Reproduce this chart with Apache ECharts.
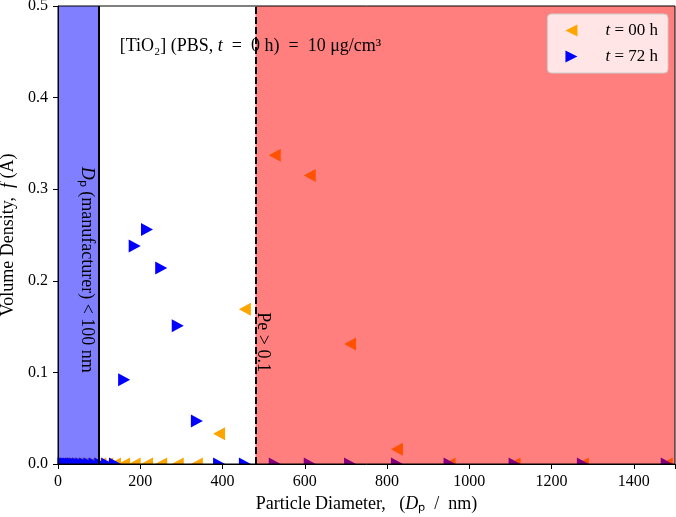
<!DOCTYPE html>
<html>
<head>
<meta charset="utf-8">
<script src="https://cdn.jsdelivr.net/npm/echarts@6/dist/echarts.min.js"></script>
<style>
  html, body { margin: 0; padding: 0; background: #fff; }
  #chart { width: 676px; height: 517px; }
</style>
</head>
<body>
<div id="chart"></div>
<script>
// particle diameter bins (nm)
const diameters = [5.3, 6.1, 7.1, 8.3, 9.6, 11.1, 12.9, 14.9, 17.3, 20.1,
  23.3, 27.1, 31.4, 36.4, 42.3, 49.0, 56.9, 66.0, 76.5, 88.8,
  103.0, 119.5, 138.6, 160.8, 186.5, 216.3, 250.9, 291.1, 337.6, 391.6,
  454.3, 527, 612, 710, 824, 952, 1110, 1276, 1480];
// volume density, t = 00 h
const density00 = [0, 0, 0, 0, 0, 0, 0, 0, 0, 0,
  0, 0, 0, 0, 0, 0, 0, 0, 0, 0,
  0, 0, 0, 0, 0, 0, 0, 0, 0, 0.033,
  0.169, 0.337, 0.315, 0.131, 0.016, 0, 0, 0, 0];
// volume density, t = 72 h
const density72 = [0, 0, 0, 0, 0, 0, 0, 0, 0, 0,
  0, 0, 0, 0, 0, 0, 0, 0, 0, 0,
  0, 0, 0, 0.092, 0.238, 0.256, 0.214, 0.151, 0.047, 0,
  0, 0, 0, 0, 0, 0, 0, 0, 0];
const seriesNames = ['t = 00 h', 't = 72 h'];
const legendLabels = ['{g|}{i|t} = 00 h', '{g|}{i|t} = 72 h'];
// regions (nm)
const manufacturerLimit = 100;
const pecletLimit = 480;
const xMin = 0, xMax = 1500, xStep = 200;
const yMin = 0, yMax = 0.5, yStep = 0.1;

const font = 'Liberation Serif';
const richName = { i: { fontStyle: 'italic', fontFamily: font, fontSize: 18 } };
const richLegend = { i: { fontStyle: 'italic', fontFamily: font, fontSize: 17 }, g: { width: 19 } };
const leftIcon = 'path://M0,6 L12,0 L12,12 Z';
const rightIcon = 'path://M0,0 L12,6 L0,12 Z';

function pairs(xs, ys) {
  return xs.map((x, k) => [x, ys[k]]);
}

const chart = echarts.init(document.getElementById('chart'));
chart.setOption({
  animation: false,
  textStyle: { fontFamily: font },
  grid: { left: 58, right: 1, top: 6, bottom: 53, containLabel: false, outerBoundsMode: 'none' },
  xAxis: {
    type: 'value', min: xMin, max: xMax, interval: xStep, z: 10,
    name: 'Particle Diameter,   ({i|D}ₚ  /  nm)',
    nameLocation: 'middle', nameGap: 31,
    nameTextStyle: { fontSize: 18, color: '#000', fontFamily: font, rich: richName },
    axisLine: { lineStyle: { color: '#000', width: 1 } },
    axisTick: { show: true, length: 5, lineStyle: { color: '#000' } },
    axisLabel: { color: '#000', fontSize: 16, margin: 10, formatter: v => (v === xMax ? '' : String(v)) },
    splitLine: { show: false }
  },
  yAxis: {
    type: 'value', min: yMin, max: yMax, interval: yStep, z: 10,
    name: 'Volume Density,  {i|f} (A)',
    nameLocation: 'middle', nameGap: 40, nameRotate: 90,
    nameTextStyle: { fontSize: 18, color: '#000', fontFamily: font, rich: richName },
    axisLine: { show: true, lineStyle: { color: '#000', width: 1 } },
    axisTick: { show: true, length: 5, lineStyle: { color: '#000' } },
    axisLabel: { color: '#000', fontSize: 16, margin: 10, formatter: v => v.toFixed(1) },
    splitLine: { show: false }
  },
  legend: {
    z: 20,
    orient: 'vertical', right: 8, top: 14,
    padding: [8, 10, 8, 18], itemGap: 9,
    itemWidth: 20, itemHeight: 12,
    backgroundColor: 'rgba(255,255,255,0.8)',
    borderColor: '#cccccc', borderWidth: 1, borderRadius: 4,
    textStyle: { fontSize: 17, color: '#000', fontFamily: font, rich: richLegend },
    formatter: name => legendLabels[seriesNames.indexOf(name)],
    data: [
      { name: seriesNames[0], icon: leftIcon },
      { name: seriesNames[1], icon: rightIcon }
    ]
  },
  series: [
    {
      name: seriesNames[0], type: 'scatter', z: 2,
      symbol: 'triangle', symbolRotate: 90, symbolSize: [13, 12],
      itemStyle: { color: '#ffa500', opacity: 1 },
      data: pairs(diameters, density00)
    },
    {
      name: seriesNames[1], type: 'scatter', z: 2,
      symbol: 'triangle', symbolRotate: -90, symbolSize: [13, 12],
      itemStyle: { color: '#0000ff', opacity: 1 },
      data: pairs(diameters, density72)
    },
    {
      name: 'regions', type: 'scatter', data: [], z: 3,
      markArea: {
        z: 3, silent: true,
        data: [
          [{ xAxis: xMin, itemStyle: { color: 'rgba(0,0,255,0.5)' } }, { xAxis: manufacturerLimit }],
          [{ xAxis: pecletLimit, itemStyle: { color: 'rgba(255,0,0,0.5)' } }, { xAxis: xMax }]
        ]
      },
      markLine: {
        z: 5, silent: true, symbol: 'none', label: { show: false },
        data: [
          { xAxis: manufacturerLimit, lineStyle: { color: '#000', width: 2, type: 'solid' } },
          { xAxis: pecletLimit, lineStyle: { color: '#000', width: 2, type: [7, 3] } }
        ]
      }
    }
  ]
});

// annotations, placed from data coordinates
const px = p => chart.convertToPixel({ gridIndex: 0 }, p);
const lo = px([xMin, yMin]), hi = px([xMax, yMax]);
const topText = px([150, 0.456]);
const mfrText = px([70, 0.212]);
const peText = px([498, 0.133]);
const annFont = '18px "' + font + '"';
chart.setOption({
  graphic: [
    // hide marker parts outside the axes
    { type: 'rect', z: 6, silent: true, shape: { x: lo[0] - 1, y: lo[1] + 0.5, width: hi[0] - lo[0] + 2, height: 10 }, style: { fill: '#fff' } },
    { type: 'rect', z: 6, silent: true, shape: { x: lo[0] - 12, y: hi[1], width: 11.5, height: lo[1] - hi[1] + 10 }, style: { fill: '#fff' } },
    // frame
    { type: 'rect', z: 15, silent: true, shape: { x: lo[0], y: hi[1], width: hi[0] - lo[0], height: lo[1] - hi[1] }, style: { fill: 'none', stroke: '#000', lineWidth: 1 } },
    {
      type: 'text', z: 20, silent: true, x: topText[0], y: topText[1],
      style: {
        text: '[TiO₂] (PBS, {i|t}  =  0 h)  =  10 μg/cm³', rich: richName,
        font: annFont, fill: '#000', verticalAlign: 'middle', align: 'left'
      }
    },
    {
      type: 'text', z: 20, silent: true, x: mfrText[0], y: mfrText[1], rotation: -Math.PI / 2,
      style: {
        text: '{i|D}ₚ (manufacturer) < 100 nm', rich: richName,
        font: annFont, fill: '#000', verticalAlign: 'middle', align: 'center'
      }
    },
    {
      type: 'text', z: 20, silent: true, x: peText[0], y: peText[1], rotation: -Math.PI / 2,
      style: {
        text: 'Pe > 0.1',
        font: annFont, fill: '#000', verticalAlign: 'middle', align: 'center'
      }
    }
  ]
});
</script>
</body>
</html>
